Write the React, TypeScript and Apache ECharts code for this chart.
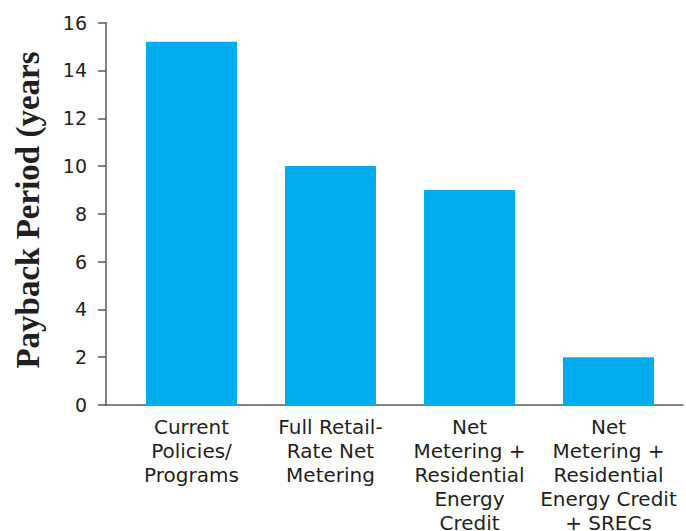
import React, { useEffect, useRef } from "react";
import * as echarts from "echarts";

const categories = [
  "Current\nPolicies/\nPrograms",
  "Full Retail-\nRate Net\nMetering",
  "Net\nMetering +\nResidential\nEnergy\nCredit",
  "Net\nMetering +\nResidential\nEnergy Credit\n+ SRECs",
];
const paybackYears = [15.2, 10, 9, 2];
const yTitle = "Payback Period (years";

export default function App() {
  const ref = useRef<HTMLDivElement>(null);
  useEffect(() => {
    const chart = echarts.init(ref.current!, null, { renderer: "svg" });
    const axisColor = "#58595b";
    const textColor = "#231f20";
    const font = "'DejaVu Sans', sans-serif";
    chart.setOption({
      animation: false,
      grid: [
        { left: 122, right: 8, top: 22.7, bottom: 126, outerBoundsMode: "none", containLabel: false },
        { left: 106, right: 3, top: 22.7, bottom: 126, outerBoundsMode: "none", containLabel: false },
      ],
      graphic: [
        {
          type: "text",
          x: 28,
          y: 210,
          rotation: Math.PI / 2,
          style: {
            text: yTitle,
            font: "bold 33px 'Liberation Serif', 'DejaVu Serif', serif",
            fill: textColor,
            align: "center",
            verticalAlign: "middle",
          },
        },
      ],
      xAxis: [
        {
          type: "category",
          gridIndex: 0,
          data: categories,
          axisLine: { show: false },
          axisTick: { show: false },
          axisLabel: {
            interval: 0,
            margin: 10,
            color: textColor,
            fontSize: 20,
            lineHeight: 24,
            fontFamily: font,
            align: "center",
            verticalAlign: "top",
          },
        },
        {
          type: "value",
          gridIndex: 1,
          min: 0,
          max: 1,
          axisLine: { show: true, onZero: false, lineStyle: { color: axisColor, width: 1.5 } },
          axisTick: { show: false },
          axisLabel: { show: false },
          splitLine: { show: false },
        },
      ],
      yAxis: [
        {
          type: "value",
          gridIndex: 0,
          min: 0,
          max: 16,
          interval: 2,
          show: false,
          splitLine: { show: false },
        },
        {
          type: "value",
          gridIndex: 1,
          min: 0,
          max: 16,
          interval: 2,
          splitLine: { show: false },
          axisLine: { show: true, lineStyle: { color: axisColor, width: 1.5 } },
          axisTick: { show: true, length: 8, lineStyle: { color: axisColor, width: 1.5 } },
          axisLabel: {
            margin: 19,
            color: textColor,
            fontSize: 19,
            fontFamily: font,
          },
        },
      ],
      series: [
        {
          type: "bar",
          xAxisIndex: 0,
          yAxisIndex: 0,
          data: paybackYears,
          barWidth: 91,
          itemStyle: { color: "#00aeef" },
        },
      ],
    });
    return () => chart.dispose();
  }, []);
  return (
    <div
      ref={ref}
      style={{ position: "absolute", left: 0, top: 0, width: 686, height: 531, background: "#fff" }}
    />
  );
}
